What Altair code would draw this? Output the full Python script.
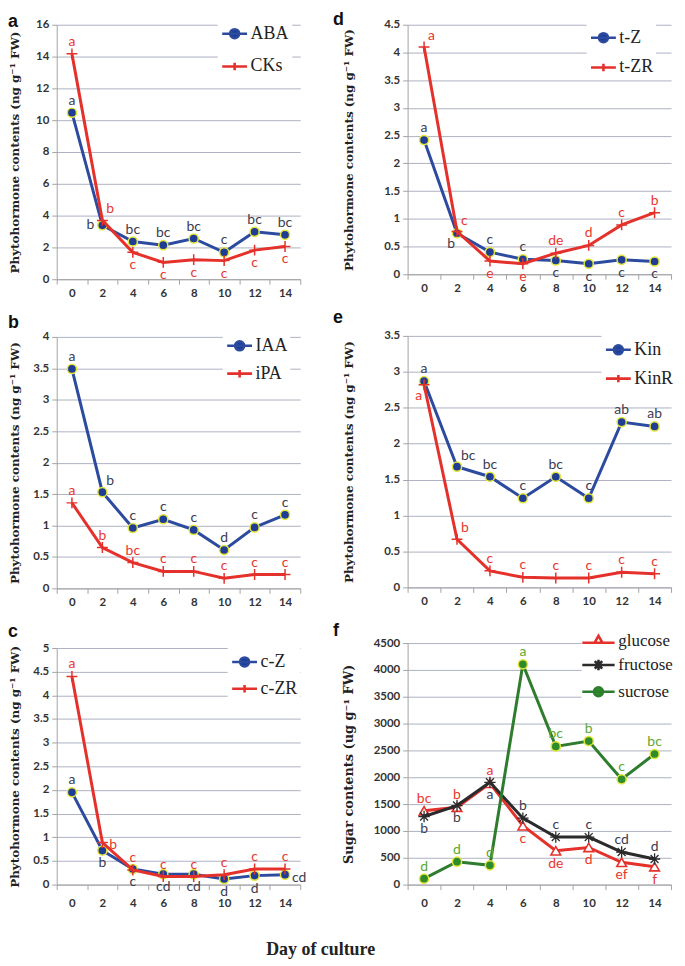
import altair as alt
import pandas as pd

days = [0, 2, 4, 6, 8, 10, 12, 14]

# ---- panel a ----
aba = [10.47, 3.39, 2.37, 2.14, 2.56, 1.69, 2.98, 2.79]
aba_sig = ["a", "b", "bc", "bc", "bc", "c", "bc", "bc"]
aba_pos = ["above", "left", "above", "above", "above", "above", "above", "above"]
cks = [14.17, 3.70, 1.69, 1.06, 1.23, 1.17, 1.83, 2.06]
cks_sig = ["a", "b", "c", "c", "c", "c", "c", "c"]
cks_pos = ["above", "ur", "below", "below", "below", "below", "below", "below"]

# ---- panel b ----
iaa = [3.49, 1.53, 0.96, 1.10, 0.93, 0.61, 0.97, 1.17]
iaa_sig = ["a", "b", "c", "c", "c", "d", "c", "c"]
iaa_pos = ["above", "ur", "above", "above", "above", "above", "above", "above"]
ipa = [1.36, 0.65, 0.41, 0.27, 0.27, 0.16, 0.22, 0.22]
ipa_sig = ["a", "b", "bc", "c", "c", "c", "c", "c"]
ipa_pos = ["above"] * 8

# ---- panel c ----
cz = [1.95, 0.72, 0.33, 0.22, 0.22, 0.12, 0.19, 0.21]
cz_sig = ["a", "b", "c", "cd", "cd", "d", "d", "cd"]
cz_pos = ["above", "below", "below", "below", "below", "below", "below", "right"]
czr = [4.40, 0.89, 0.31, 0.17, 0.17, 0.21, 0.33, 0.33]
czr_sig = ["a", "b", "c", "c", "c", "c", "c", "c"]
czr_pos = ["above", "right", "above", "above", "above", "above", "above", "above"]

# ---- panel d ----
tz = [2.42, 0.74, 0.40, 0.27, 0.25, 0.19, 0.26, 0.23]
tz_sig = ["a", "b", "c", "c", "c", "c", "c", "c"]
tz_pos = ["above", "bl", "above", "above", "below", "below", "below", "below"]
tzr = [4.10, 0.77, 0.24, 0.19, 0.38, 0.52, 0.89, 1.11]
tzr_sig = ["a", "c", "e", "e", "de", "d", "c", "b"]
tzr_pos = ["ur", "ur", "below", "below", "above", "above", "above", "above"]

# ---- panel e ----
kin = [2.87, 1.68, 1.54, 1.24, 1.54, 1.24, 2.30, 2.24]
kin_sig = ["a", "bc", "bc", "c", "bc", "c", "ab", "ab"]
kin_pos = ["above", "ur", "above", "above", "above", "above", "above", "above"]
kinr = [2.82, 0.67, 0.23, 0.14, 0.13, 0.13, 0.21, 0.19]
kinr_sig = ["a", "b", "c", "c", "c", "c", "c", "c"]
kinr_pos = ["bl", "ur", "above", "above", "above", "above", "above", "above"]

# ---- panel f ----
glucose = [1374, 1442, 1888, 1096, 631, 693, 415, 334]
glucose_sig = ["bc", "b", "a", "c", "de", "d", "ef", "f"]
glucose_pos = ["above", "above", "above", "below", "below", "below", "below", "below"]
fructose = [1269, 1473, 1906, 1238, 885, 885, 607, 477]
fructose_sig = ["b", "b", "a", "b", "c", "c", "cd", "d"]
fructose_pos = ["below", "below", "below", "above", "above", "above", "above", "above"]
sucrose = [111, 427, 359, 4104, 2575, 2674, 1962, 2433]
sucrose_sig = ["d", "d", "d", "a", "bc", "b", "c", "bc"]
sucrose_pos = ["above"] * 8

# ---- styles ----
BLUE = "#2c4b9e"
BLUE_FILL = "#1f3d95"
YELLOW = "#e4e63a"
RED = "#e5312b"
GREEN = "#2e7d2e"
GREEN_FILL = "#2f8c2a"
BLACK = "#2b2b2b"
DARK_TXT = "#3c3c50"
RED_TXT = "#e8382e"
GREEN_TXT = "#5aa832"

PLUS = "M-1,0H1M0,-1V1"
AST = "M-1,0H1M0,-1V1M-0.7,-0.7L0.7,0.7M-0.7,0.7L0.7,-0.7"


def leg_path(kind, w):
    line = f"M{-w},0H{w}"
    if kind == "circle":
        r = 0.36
        return line + f"M{r},0A{r},{r} 0 1,1 {-r},0A{r},{r} 0 1,1 {r},0Z"
    if kind == "plus":
        return line + "M0,-0.3V0.3"
    if kind == "triangle":
        return f"M{-w},0.14H{w}M-0.32,0.14L0,-0.42L0.32,0.14Z"
    return line + "M0,-0.42V0.42M-0.3,-0.3L0.3,0.3M-0.3,0.3L0.3,-0.3"


POS = {
    "above": ("center", 0, -12),
    "below": ("center", 0, 13),
    "left": ("right", -8, 0),
    "right": ("left", 7, 3),
    "ur": ("left", 4, -11),
    "bl": ("right", -2, 11),
}

PHYTO = "Phytohormone  contents (ng g\u207b\u00b9 FW)"
SUGAR = "Sugar contents (ug g\u207b\u00b9 FW)"
IND = dict(stroke="independent", fill="independent", shape="independent")


def S(name, values, sig, pos, color, marker, fill, txt):
    return dict(name=name, values=values, sig=sig, pos=pos, color=color,
                marker=marker, fill=fill, txt=txt)


def marker(b, s):
    m = s["marker"]
    if m == "circle":
        return b.mark_point(shape="circle", filled=True, size=85, fill=s["fill"],
                            stroke=YELLOW, strokeWidth=1.5, opacity=1)
    if m == "plus":
        return b.mark_point(shape=PLUS, filled=False, size=120, stroke=s["color"],
                            strokeWidth=1.5, opacity=1)
    if m == "triangle":
        return b.mark_point(shape="triangle-up", filled=True, size=95, fill="white",
                            stroke=s["color"], strokeWidth=1.6, opacity=1)
    return b.mark_point(shape=AST, filled=False, size=130, stroke=s["color"],
                        strokeWidth=1.3, opacity=1)


def panel(letter, series, ymax, ystep, ytitle, tsize, width, height, col, loff,
          lx, ly, rowpad, legsize, legw, legoff, legfont, xlabpad=3):
    rows = []
    for s in series:
        for d, v, g, p in zip(days, s["values"], s["sig"], s["pos"]):
            rows.append(dict(series=s["name"], day=d, value=v, sig=g, pos=p))
    df = pd.DataFrame(rows)
    names = [s["name"] for s in series]
    n = int(round(ymax / ystep))
    yvals = [round(i * ystep, 3) for i in range(n + 1)]
    ext, tpad, ldx = (29, 6, -49) if col == 0 else (45, 7, -75)

    X = alt.X("day:O", title=None,
              scale=alt.Scale(type="band", domain=days, paddingInner=0, paddingOuter=0),
              bandPosition=0.5,
              axis=alt.Axis(labelAngle=0, tickBand="extent", grid=False,
                            domainColor="#a3a3a3", tickColor="#a3a3a3", tickSize=5,
                            labelFont="Lato", labelFontWeight="bold", labelFontSize=11.5,
                            labelColor="#333333", labelPadding=xlabpad))
    Y = alt.Y("value:Q", title=ytitle,
              scale=alt.Scale(domain=[0, ymax], nice=False, zero=True),
              axis=alt.Axis(values=yvals, format="~r", grid=True, gridColor="#adb1c2",
                            domainColor="#a3a3a3", tickColor="#a3a3a3", tickSize=5,
                            labelFont="Lato", labelFontWeight="bold", labelFontSize=11.5,
                            labelColor="#333333", labelPadding=3,
                            titleFont="DejaVu Serif", titleFontWeight="bold",
                            titleFontSize=tsize, titleColor="#222222",
                            minExtent=ext, maxExtent=ext, titlePadding=tpad))
    base = alt.Chart(df)
    layers = []
    for s in series:
        b = base.transform_filter(alt.datum.series == s["name"]).encode(x=X, y=Y)
        layers.append(b.mark_line(color=s["color"], strokeWidth=3))
        layers.append(marker(b, s))
    for s in series:
        for p in sorted(set(s["pos"])):
            al, dx, dy = POS[p]
            layers.append(
                base.transform_filter((alt.datum.pos == p) & (alt.datum.series == s["name"]))
                .mark_text(align=al, dx=dx, dy=dy, baseline="middle", font="Lato",
                           fontSize=14, color=s["txt"])
                .encode(x=X, y=Y, text="sig:N")
            )
    leg = alt.Legend(orient="none", legendX=lx, legendY=ly, title=None,
                     labelFont="Liberation Serif", labelFontSize=legfont,
                     labelColor="#222222", symbolSize=legsize, symbolStrokeWidth=2.6,
                     rowPadding=rowpad, fillColor="white", padding=3, labelOffset=legoff,
                     symbolOpacity=1)
    legfill = [("transparent" if s["marker"] in ("asterisk", "plus") else s["fill"])
               for s in series]
    layers.append(
        base.mark_point(size=0, strokeWidth=2.6, filled=True, opacity=1)
        .encode(
            x=X, y=Y,
            stroke=alt.Stroke("series:N", legend=leg, sort=names,
                              scale=alt.Scale(domain=names, range=[s["color"] for s in series])),
            fill=alt.Fill("series:N", legend=leg, sort=names,
                          scale=alt.Scale(domain=names, range=legfill)),
            shape=alt.Shape("series:N", legend=leg, sort=names,
                            scale=alt.Scale(domain=names,
                                            range=[leg_path(s["marker"], legw) for s in series])),
        )
    )
    letter_df = pd.DataFrame({"letter": [letter]})
    layers.append(
        alt.Chart(letter_df).mark_text(align="left", baseline="top", fontSize=18,
                                       font="Liberation Sans", fontWeight="bold",
                                       color="#111111")
        .encode(text="letter:N", x=alt.value(ldx), y=alt.value(-loff))
    )
    return alt.layer(*layers).properties(width=width, height=height)


pa = panel("a", [S("ABA", aba, aba_sig, aba_pos, BLUE, "circle", BLUE_FILL, DARK_TXT),
                 S("CKs", cks, cks_sig, cks_pos, RED, "plus", RED, RED_TXT)],
           16, 2, PHYTO, 12, 245, 256, 0, 12, 162, -8, 9, 625, 1, 2, 18)
pb = panel("b", [S("IAA", iaa, iaa_sig, iaa_pos, BLUE, "circle", BLUE_FILL, DARK_TXT),
                 S("iPA", ipa, ipa_sig, ipa_pos, RED, "plus", RED, RED_TXT)],
           4, 0.5, PHYTO, 12, 245, 253, 0, 23, 167, -8, 4, 625, 1, 2, 18)
pc = panel("c", [S("c-Z", cz, cz_sig, cz_pos, BLUE, "circle", BLUE_FILL, DARK_TXT),
                 S("c-ZR", czr, czr_sig, czr_pos, RED, "plus", RED, RED_TXT)],
           5, 0.5, PHYTO, 12, 245, 238, 0, 25, 172, -3, 3, 625, 1, 2, 18, xlabpad=8)
pd_ = panel("d", [S("t-Z", tz, tz_sig, tz_pos, BLUE, "circle", BLUE_FILL, DARK_TXT),
                  S("t-ZR", tzr, tzr_sig, tzr_pos, RED, "plus", RED, RED_TXT)],
            4.5, 0.5, PHYTO, 12, 265, 251, 1, 14, 180, -4, 6, 625, 1, 2, 18)
pe = panel("e", [S("Kin", kin, kin_sig, kin_pos, BLUE, "circle", BLUE_FILL, DARK_TXT),
                 S("KinR", kinr, kinr_sig, kinr_pos, RED, "plus", RED, RED_TXT)],
           3.5, 0.5, PHYTO, 12, 265, 253, 1, 27, 195, -3, 5, 625, 1, 2, 18)
pf = panel("f", [S("glucose", glucose, glucose_sig, glucose_pos, RED, "triangle", "white", RED_TXT),
                 S("fructose", fructose, fructose_sig, fructose_pos, BLACK, "asterisk", BLACK, DARK_TXT),
                 S("sucrose", sucrose, sucrose_sig, sucrose_pos, GREEN, "circle", GREEN_FILL, GREEN_TXT)],
           4500, 500, SUGAR, 13, 265, 243, 1, 21, 175, -19, 2, 625, 1.3, 6, 17, xlabpad=8)

left = alt.vconcat(pa, pb, pc, spacing=15).resolve_scale(**IND).resolve_legend(**IND)
right = alt.vconcat(pd_, pe, pf, spacing=15).resolve_scale(**IND).resolve_legend(**IND)
chart = alt.hconcat(left, right, spacing=26).resolve_scale(**IND).resolve_legend(**IND).properties(
    padding=0,
    title=alt.TitleParams("Day of culture", orient="bottom", anchor="middle",
                          font="Liberation Serif", fontSize=18, fontWeight="bold",
                          color="#222222", offset=32, dx=-22),
).configure_view(stroke=None)

chart.save("out.html", embed_options={"renderer": "svg", "actions": False})
